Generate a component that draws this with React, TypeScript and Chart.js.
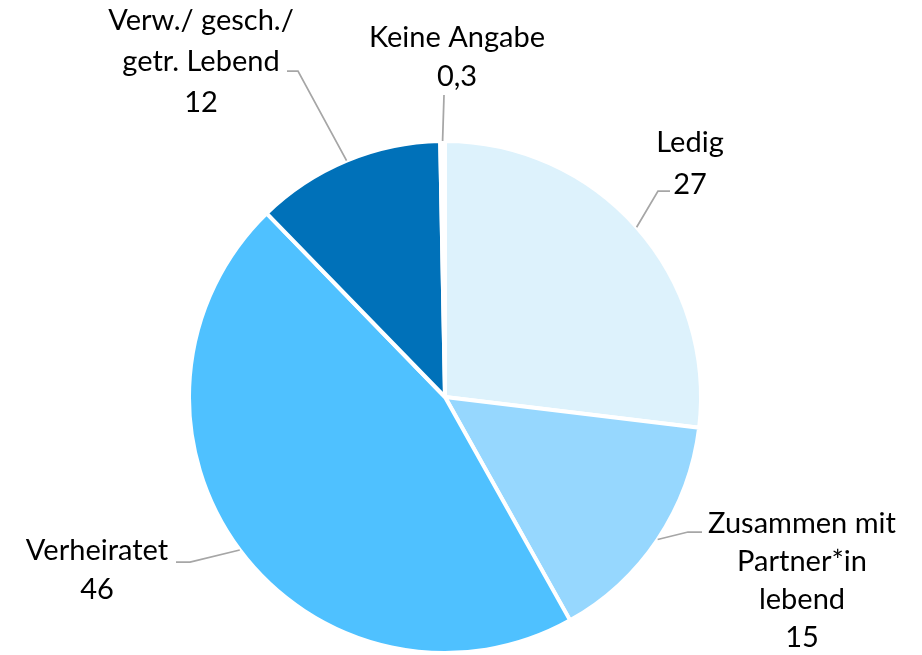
import React, { useEffect, useRef } from "react";
import { Chart, registerables } from "chart.js";

Chart.register(...registerables);

const categories = ["Ledig", "Zusammen mit Partner*in lebend", "Verheiratet", "Verw./ gesch./ getr. Lebend", "Keine Angabe"];
const values = [27, 15, 46, 12, 0.3];
const valueLabels = ["27", "15", "46", "12", "0,3"];
const labelLines = [
  ["Ledig"],
  ["Zusammen mit", "Partner*in", "lebend"],
  ["Verheiratet"],
  ["Verw./ gesch./", "getr. Lebend"],
  ["Keine Angabe"],
];
const colors = ["#DDF2FC", "#96D7FE", "#4FC1FF", "#0071B9", "#FFFFFF"];

// label layout (text centre x, first-line centre y, elbow point, end of horizontal stub)
const labelLayout = [
  { tx: 690, ty: 143, ex: 658, ey: 191, hx: 670 },
  { tx: 802, ty: 524, ex: 688, ey: 532, hx: 702 },
  { tx: 97, ty: 551, ex: 190, ey: 562, hx: 176 },
  { tx: 201, ty: 21, ex: 298, ey: 71, hx: 287 },
  { tx: 457, ty: 38, ex: 444, ey: 95, hx: 444 },
];
const lineHeights = [42, 38, 39, 41, 39];

const FONT = "29px Lato";

const labelPlugin = {
  id: "pieLabels",
  afterDraw(chart: any) {
    const ctx = chart.ctx;
    const meta = chart.getDatasetMeta(0);
    ctx.save();
    meta.data.forEach((arc: any, i: number) => {
      const p = arc.getProps(["x", "y", "startAngle", "endAngle", "outerRadius"], true);
      const mid = (p.startAngle + p.endAngle) / 2;
      const ax = p.x + Math.cos(mid) * p.outerRadius;
      const ay = p.y + Math.sin(mid) * p.outerRadius;
      const L = labelLayout[i];
      ctx.strokeStyle = "#A6A6A6";
      ctx.lineWidth = 1.75;
      ctx.beginPath();
      ctx.moveTo(ax, ay);
      ctx.lineTo(L.ex, L.ey);
      ctx.lineTo(L.hx, L.ey);
      ctx.stroke();
      ctx.fillStyle = "#000000";
      ctx.font = FONT;
      ctx.textAlign = "center";
      ctx.textBaseline = "middle";
      const lines = [...labelLines[i], valueLabels[i]];
      lines.forEach((t, k) => {
        ctx.fillText(t, L.tx, L.ty + k * lineHeights[i]);
      });
    });
    ctx.restore();
  },
};

export default function App() {
  const ref = useRef<HTMLCanvasElement>(null);
  useEffect(() => {
    if (!ref.current) return;
    const chart = new Chart(ref.current, {
      type: "pie",
      data: {
        labels: categories,
        datasets: [
          {
            data: values,
            backgroundColor: colors,
            borderColor: "#FFFFFF",
            borderWidth: 4,
          },
        ],
      },
      options: {
        animation: false,
        responsive: false,
        radius: 256,
        layout: { padding: { left: 0, right: 32, top: 139, bottom: 0 } },
        plugins: {
          legend: { display: false },
          tooltip: { enabled: false },
        },
      } as any,
      plugins: [labelPlugin],
    });
    return () => chart.destroy();
  }, []);
  return (
    <div style={{ position: "fixed", left: 0, top: 0, width: 922, height: 655, background: "#fff" }}>
      <canvas ref={ref} width={922} height={655} style={{ width: 922, height: 655 }} />
    </div>
  );
}
